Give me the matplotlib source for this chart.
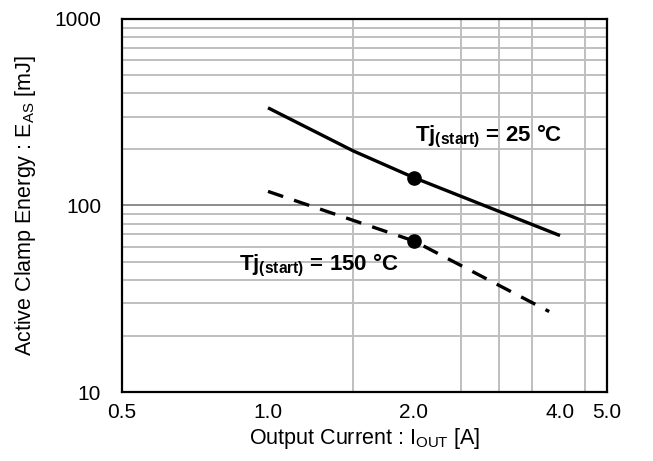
import matplotlib
matplotlib.use("Agg")
import matplotlib.pyplot as plt
from matplotlib.ticker import FixedLocator, LogLocator, NullFormatter

plt.rcParams['font.family'] = ['Liberation Sans', 'DejaVu Sans']
plt.rcParams['mathtext.fontset'] = 'custom'
plt.rcParams['mathtext.rm'] = 'Liberation Sans'
plt.rcParams['mathtext.bf'] = 'Liberation Sans:bold'

# Active clamp energy vs output current
iout_25 = [1.0, 1.5, 2.0, 4.0]
eas_25 = [334, 196, 141, 69]
iout_150 = [1.0, 2.0, 3.8]
eas_150 = [119, 64.5, 27]
marker_iout = [2.0, 2.0]
marker_eas = [141, 64.5]

xtick_vals = [0.5, 1.0, 2.0, 4.0, 5.0]
xtick_labels = ['0.5', '1.0', '2.0', '4.0', '5.0']
xgrid_vals = [1.0, 1.5, 2.0, 2.5, 3.0, 3.5, 4.0, 4.5]
ytick_vals = [10, 100, 1000]
ytick_labels = ['10', '100', '1000']

fig = plt.figure(figsize=(6.53, 4.61), dpi=100)
ax = fig.add_axes([122 / 653, 1 - 392 / 461, 485 / 653, 373 / 461])

ax.set_xscale('log')
ax.set_yscale('log')
ax.set_xlim(0.5, 5.0)
ax.set_ylim(10, 1000)

# grid
ax.xaxis.set_major_locator(FixedLocator(xtick_vals))
ax.set_xticklabels(xtick_labels)
ax.xaxis.set_minor_locator(FixedLocator(xgrid_vals))
ax.xaxis.set_minor_formatter(NullFormatter())
ax.yaxis.set_major_locator(FixedLocator(ytick_vals))
ax.set_yticklabels(ytick_labels)
ax.yaxis.set_minor_locator(LogLocator(base=10, subs=range(2, 10)))
ax.yaxis.set_minor_formatter(NullFormatter())

ax.grid(True, axis='x', which='minor', color='#bfbfbf', lw=1.4)
ax.grid(True, axis='y', which='minor', color='#bfbfbf', lw=1.4)
ax.grid(True, axis='y', which='major', color='#8c8c8c', lw=1.4)
ax.set_axisbelow(True)

ax.tick_params(which='both', length=0, labelsize=15)
ax.tick_params(axis='x', pad=8)
ax.tick_params(axis='y', pad=15)
for s in ax.spines.values():
    s.set_linewidth(1.6)
    s.set_color('black')

ax.plot(iout_25, eas_25, color='black', lw=2.4, solid_capstyle='butt')
ax.plot(iout_150, eas_150, color='black', lw=2.4, linestyle=(0, (4.8, 3.45)))
ax.plot(marker_iout, marker_eas, 'o', color='black', ms=9.5, linestyle='none', zorder=5)

ax.text(2.01, 222, r'Tj$_{\mathbf{(start)}}$ = 25 °C', fontsize=16, fontweight='bold')
ax.text(0.87, 44.6, r'Tj$_{\mathbf{(start)}}$ = 150 °C', fontsize=16, fontweight='bold')

ax.set_xlabel(r'Output Current : I$_{\mathregular{OUT}}$ [A]', fontsize=15.5, labelpad=3)
ax.set_ylabel(r'Active Clamp Energy : E$_{\mathregular{AS}}$ [mJ]', fontsize=15.5, labelpad=12)

fig.savefig('out.png', dpi=100)
